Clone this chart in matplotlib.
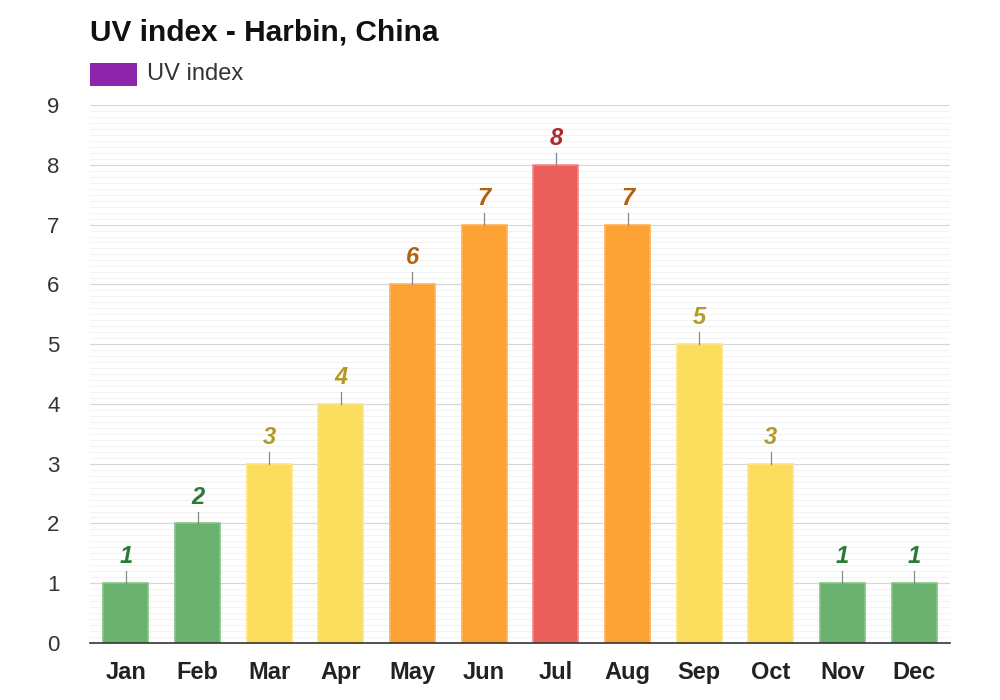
import numpy as np
import matplotlib
matplotlib.use("Agg")
from matplotlib import pyplot as plt
from matplotlib.patches import Rectangle

months = ["Jan", "Feb", "Mar", "Apr", "May", "Jun", "Jul", "Aug", "Sep", "Oct", "Nov", "Dec"]
uv = [1, 2, 3, 4, 6, 7, 8, 7, 5, 3, 1, 1]


def level_colors(v):
    # bar fill, bar edge, label colour
    if v <= 2:
        return "#6ab26e", "#86c489", "#2b7a36"
    if v <= 5:
        return "#fcdd5d", "#fde681", "#b39a26"
    if v <= 7:
        return "#fca234", "#fdb35a", "#b4600c"
    return "#eb5f5b", "#f08a86", "#b02828"


plt.rcParams["font.family"] = ["Liberation Sans", "DejaVu Sans"]

fig = plt.figure(figsize=(10, 7), dpi=100)
fig.patch.set_facecolor("#ffffff")
ax = fig.add_axes([0.09, 0.0814, 0.86, 0.7686])

x = np.arange(len(months))
for i, v in enumerate(uv):
    fill, edge, lab = level_colors(v)
    ax.bar(x[i], v, width=0.63, color=fill, edgecolor=edge, linewidth=1.2, zorder=3)
    ax.plot([x[i], x[i]], [v, v + 0.2], color="#888888", linewidth=0.9, zorder=3)
    ax.text(x[i], v + 0.25, str(v), ha="center", va="bottom", fontsize=17,
            fontweight="bold", fontstyle="italic", color=lab, zorder=4)

ax.set_xlim(-0.5, len(months) - 0.5)
ax.set_ylim(0, 9)
ax.set_yticks(range(0, 10))
ax.set_yticks(np.arange(0, 9.01, 0.1), minor=True)
ax.grid(axis="y", which="minor", color="#f3f3f3", linewidth=0.8, zorder=0)
ax.grid(axis="y", which="major", color="#d6d6d6", linewidth=0.8, zorder=1)
ax.tick_params(axis="y", which="both", length=0, labelsize=16, labelcolor="#333333", pad=22)
ax.set_xticks(x)
ax.set_xticklabels(months, fontsize=17, fontweight="bold", color="#222222")
ax.tick_params(axis="x", length=0, pad=13)

for s in ["top", "right", "left"]:
    ax.spines[s].set_visible(False)
ax.spines["bottom"].set_color("#333333")
ax.spines["bottom"].set_linewidth(1.2)
ax.spines["bottom"].set_zorder(5)

fig.text(0.09, 0.953, "UV index - Harbin, China", fontsize=21.5, fontweight="bold",
         color="#111111", ha="left", va="center")
fig.patches.append(Rectangle((0.09, 0.877), 0.047, 0.033, transform=fig.transFigure,
                             facecolor="#8e24aa", edgecolor="none"))
fig.text(0.147, 0.894, "UV index", fontsize=17, color="#333333", ha="left", va="center")

fig.savefig("out.png", dpi=100)
